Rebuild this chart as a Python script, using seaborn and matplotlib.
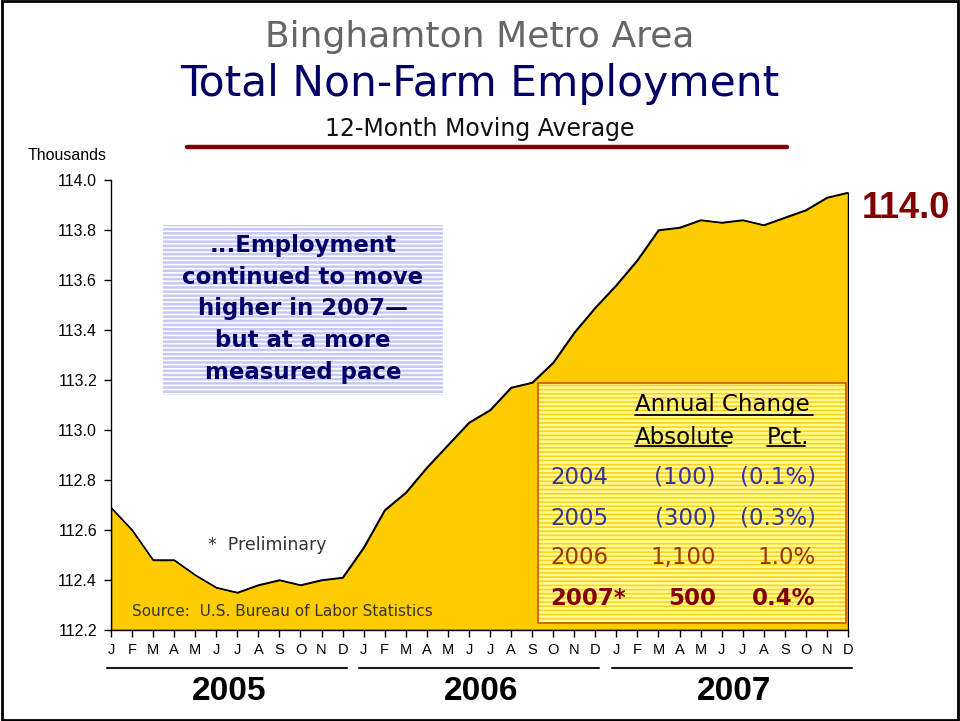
import numpy as np
import pandas as pd
import matplotlib
matplotlib.use("Agg")
import matplotlib.pyplot as plt
from matplotlib.patches import Rectangle
from matplotlib.lines import Line2D
import seaborn as sns

# ── Data ──────────────────────────────────────────────────────────────────────
years = ["2005", "2006", "2007"]
month_letters = ["J", "F", "M", "A", "M", "J", "J", "A", "S", "O", "N", "D"]
employment = [
    112.69, 112.60, 112.48, 112.48, 112.42, 112.37,
    112.35, 112.38, 112.40, 112.38, 112.40, 112.41,   # 2005
    112.53, 112.68, 112.75, 112.85, 112.94, 113.03,
    113.08, 113.17, 113.19, 113.27, 113.39, 113.49,   # 2006
    113.58, 113.68, 113.80, 113.81, 113.84, 113.83,
    113.84, 113.82, 113.85, 113.88, 113.93, 113.95,   # 2007
]
y_ticks = [112.2, 112.4, 112.6, 112.8, 113.0, 113.2, 113.4, 113.6, 113.8, 114.0]
latest_label = "114.0"

table_years = ["2004", "2005", "2006", "2007*"]
table_abs = ["(100)", "(300)", "1,100", "500"]
table_pct = ["(0.1%)", "(0.3%)", "1.0%", "0.4%"]

note_lines = ["...Employment", "continued to move", "higher in 2007\u2014",
              "but at a more", "measured pace"]

df = pd.DataFrame({
    "idx": np.arange(len(employment)),
    "value": employment,
    "year": np.repeat(years, 12),
    "month": month_letters * len(years),
})

# ── Style ─────────────────────────────────────────────────────────────────────
sns.set_theme(style="white")
plt.rcParams["font.family"] = ["DejaVu Sans"]
plt.rcParams["hatch.linewidth"] = 1.2

ARIAL = "Liberation Sans"
NAVY = "#000066"
DARK_RED = "#800000"
TBL = 16.5

fig = plt.figure(figsize=(9.6, 7.21), dpi=100)
ax = fig.add_axes([0.1156, 0.1262, 0.7677, 0.6241])

# ── Area + line ───────────────────────────────────────────────────────────────
ax.fill_between(df["idx"], df["value"], y_ticks[0], facecolor="#FFCC00",
                edgecolor="black", linewidth=1.0, zorder=1)
sns.lineplot(data=df, x="idx", y="value", color="black", linewidth=1.0,
             ax=ax, zorder=2)

ax.set_xlim(df["idx"].min(), df["idx"].max())
ax.set_ylim(y_ticks[0], y_ticks[-1])
ax.set_yticks(y_ticks)
ax.set_yticklabels([f"{v:.1f}" for v in y_ticks], fontfamily=ARIAL, fontsize=11.5)
ax.set_xticks(df["idx"])
ax.set_xticklabels(df["month"], fontfamily=ARIAL, fontsize=10.5)
ax.set_xlabel("")
ax.set_ylabel("")
for s in ["top", "right"]:
    ax.spines[s].set_visible(False)
for s in ["left", "bottom"]:
    ax.spines[s].set_color("black")
    ax.spines[s].set_linewidth(1.0)
ax.tick_params(axis="both", direction="out", length=5, width=1, color="black",
               labelcolor="black", left=True, bottom=True)
ax.tick_params(axis="x", pad=4)
ax.tick_params(axis="y", pad=5)

# latest value
ax.annotate(latest_label, xy=(df["idx"].iloc[-1], df["value"].iloc[-1]),
            xytext=(14, -16), textcoords="offset pixels", ha="left", va="center",
            fontfamily=ARIAL, fontsize=26, fontweight="bold", color=DARK_RED,
            annotation_clip=False)

# ── Year brackets under the months ────────────────────────────────────────────
for i, yr in enumerate(years):
    x0, x1 = 12 * i - 0.2, 12 * i + 11.2
    ax.plot([x0, x1], [-0.0844, -0.0844], transform=ax.get_xaxis_transform(),
            color="#1a1a1a", linewidth=1.5, clip_on=False)
    ax.text(12 * i + 5.6, -0.1356, yr, transform=ax.get_xaxis_transform(),
            ha="center", va="center", fontfamily=ARIAL, fontsize=24,
            fontweight="bold", color="black")

# ── Note box (blue striped) ───────────────────────────────────────────────────
ax.add_patch(Rectangle((0.0706, 0.5222), 0.3799, 0.3778, transform=ax.transAxes,
                       facecolor="#C8C8F8", edgecolor="white", hatch="----",
                       linewidth=0, zorder=3))
for k, line in enumerate(note_lines):
    ax.text(0.2605, 0.8556 - k * 0.0711, line, transform=ax.transAxes,
            ha="center", va="center", fontsize=16.5, fontweight="bold",
            color=NAVY, zorder=4)

# ── Annual change table (yellow striped) ──────────────────────────────────────
ax.add_patch(Rectangle((0.5794, 0.0156), 0.4179, 0.5333, transform=ax.transAxes,
                       facecolor="#FFFF99", edgecolor="#FFD21A", hatch="----",
                       linewidth=0, zorder=3))
ax.add_patch(Rectangle((0.5794, 0.0156), 0.4179, 0.5333, transform=ax.transAxes,
                       facecolor="none", edgecolor="#CC5500", linewidth=1.2,
                       zorder=4))

ax.text(0.711, 0.5022, "Annual Change", transform=ax.transAxes, ha="left",
        va="center", fontsize=TBL, color="black", zorder=5)
ax.plot([0.711, 0.953], [0.4778, 0.4778], transform=ax.transAxes,
        color="black", linewidth=1.3, zorder=5)
ax.text(0.711, 0.4289, "Absolute", transform=ax.transAxes, ha="left",
        va="center", fontsize=TBL, color="black", zorder=5)
ax.plot([0.711, 0.836], [0.4089, 0.4089], transform=ax.transAxes,
        color="black", linewidth=1.3, zorder=5)
ax.text(0.890, 0.4289, "Pct.", transform=ax.transAxes, ha="left",
        va="center", fontsize=TBL, color="black", zorder=5)
ax.plot([0.890, 0.942], [0.4089, 0.4089], transform=ax.transAxes,
        color="black", linewidth=1.3, zorder=5)

row_y = [0.34, 0.2489, 0.1622, 0.0711]
row_colors = ["#333399", "#333399", "#993300", DARK_RED]
row_weights = ["normal", "normal", "normal", "bold"]
for yr, ab, pc, yy, col, wt in zip(table_years, table_abs, table_pct,
                                   row_y, row_colors, row_weights):
    ax.text(0.5957, yy, yr, transform=ax.transAxes, ha="left", va="center",
            fontsize=TBL, color=col, fontweight=wt, zorder=5)
    ax.text(0.8209, yy, ab, transform=ax.transAxes, ha="right", va="center",
            fontsize=TBL, color=col, fontweight=wt, zorder=5)
    ax.text(0.9566, yy, pc, transform=ax.transAxes, ha="right", va="center",
            fontsize=TBL, color=col, fontweight=wt, zorder=5)

# ── Notes ─────────────────────────────────────────────────────────────────────
ax.text(0.1316, 0.1889, "*  Preliminary", transform=ax.transAxes, ha="left",
        va="center", fontsize=12.5, color="#333333", zorder=5)
ax.text(0.0285, 0.0422, "Source:  U.S. Bureau of Labor Statistics",
        transform=ax.transAxes, ha="left", va="center", fontsize=11,
        color="#333333", zorder=5)

# ── Titles ────────────────────────────────────────────────────────────────────
fig.text(0.5, 1 - 37 / 721, "Binghamton Metro Area", ha="center", va="center",
         fontsize=26, color="#666666")
fig.text(0.5, 1 - 84 / 721, "Total Non-Farm Employment", ha="center",
         va="center", fontsize=30.5, color=NAVY)
fig.text(0.5, 1 - 129 / 721, "12-Month Moving Average", ha="center",
         va="center", fontsize=17, color="#111111")
fig.add_artist(Line2D([187 / 960, 787 / 960], [1 - 147 / 721, 1 - 147 / 721],
                      color=DARK_RED, linewidth=3.2))
fig.text(28 / 960, 1 - 155 / 721, "Thousands", ha="left", va="center",
         fontfamily=ARIAL, fontsize=11.5, color="black")

# frame around the slide
fig.add_artist(Rectangle((0.002, 0.002), 0.996, 0.996, transform=fig.transFigure,
                         facecolor="none", edgecolor="black", linewidth=2))

fig.savefig("out.png", dpi=100)
